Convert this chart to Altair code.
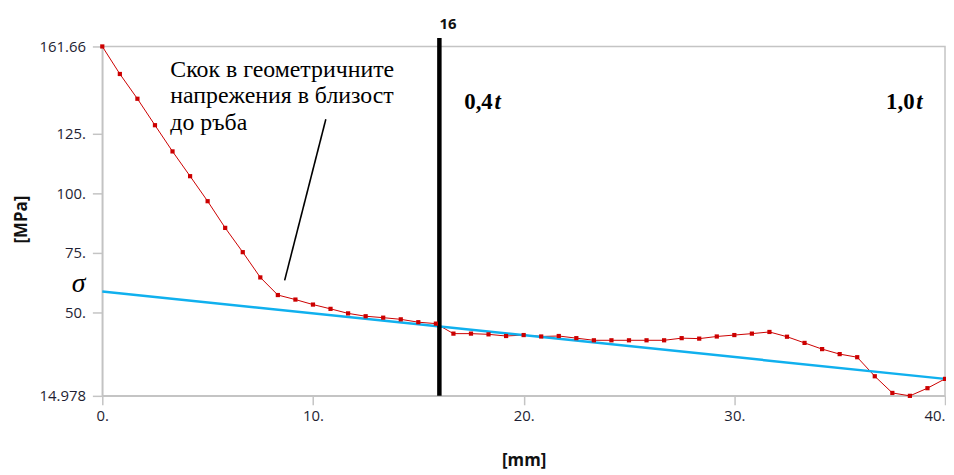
import altair as alt
import pandas as pd

# distance along the path [mm]
x_mm = [0, 0.833, 1.667, 2.5, 3.333, 4.167, 5, 5.833, 6.667, 7.5,
        8.333, 9.167, 10, 10.833, 11.667, 12.5, 13.333, 14.167, 15, 15.833,
        16.667, 17.5, 18.333, 19.167, 20, 20.833, 21.667, 22.5, 23.333, 24.167,
        25, 25.833, 26.667, 27.5, 28.333, 29.167, 30, 30.833, 31.667, 32.5,
        33.333, 34.167, 35, 35.833, 36.667, 37.5, 38.333, 39.167, 40]
# stress [MPa]
stress = [161.66, 150.1, 139.7, 128.6, 117.6, 107.2, 96.7, 85.5, 75.3, 64.7,
          57.3, 55.4, 53.3, 51.5, 49.6, 48.4, 47.8, 47.1, 45.9, 45.3,
          41.1, 41.1, 40.8, 40.1, 40.5, 39.9, 40.1, 39.2, 38.3, 38.3,
          38.3, 38.3, 38.3, 39.2, 39.0, 39.9, 40.5, 41.1, 41.8, 39.8,
          37.2, 34.6, 32.5, 31.2, 23.2, 16.2, 14.978, 18.2, 22.1]

# linearized stress
lin_x = [0, 40]
lin_y = [58.8, 22.1]

y_ticks = [14.978, 50, 75, 100, 125, 161.66]
x_ticks = [0, 10, 20, 30, 40]

marker_x = [16]
marker_label = ["16"]

note_lines = ["Скок в геометричните", "напрежения в близост", "до ръба"]
note_x = [3.23, 3.23, 3.23]
note_y = [148.9, 138.0, 126.7]

leader_x = [10.61]
leader_y = [131.1]
leader_x2 = [8.655]
leader_y2 = [63.45]

frac_text = ["0,4", "1,0"]
frac_x = [17.18, 37.2]
t_text = ["t", "t"]
t_x = [18.62, 38.64]
frac_y = [135.6, 135.6]

sigma_text = ["σ"]
sigma_x = [-1.13]
sigma_y = [58.75]

df = pd.DataFrame({"x": x_mm, "y": stress})
df_lin = pd.DataFrame({"x": lin_x, "y": lin_y})
df_mark = pd.DataFrame({"x": marker_x, "t": marker_label})
df_note = pd.DataFrame({"x": note_x, "y": note_y, "t": note_lines})
df_lead = pd.DataFrame({"x": leader_x, "y": leader_y, "x2": leader_x2, "y2": leader_y2})
df_frac = pd.DataFrame({"x": frac_x, "y": frac_y, "t": frac_text})
df_t = pd.DataFrame({"x": t_x, "y": frac_y, "t": t_text})
df_sig = pd.DataFrame({"x": sigma_x, "y": sigma_y, "t": sigma_text})

xs = alt.Scale(domain=[0, 40], nice=False, zero=False)
ys = alt.Scale(domain=[14.978, 161.66], nice=False, zero=False)

GRAY = "#c4c4c4"
SANS = "Open Sans"
SERIF = "Liberation Serif"
LABEL_C = "#1e1e32"

x_axis = alt.Axis(values=x_ticks, labelExpr="datum.value + '.'",
                  titleFont=SANS, titleFontWeight="bold", titleFontSize=17, titleColor="#111",
                  titleY=65, titleBaseline="middle",
                  labelFont=SANS, labelFontSize=15, labelColor=LABEL_C, labelFlush=False,
                  labelAlign={"condition": {"test": "datum.value == 40", "value": "right"},
                              "value": "center"},
                  labelPadding=4, tickSize=9, tickColor=GRAY, tickWidth=1.5,
                  domainColor=GRAY, domainWidth=1.5, grid=False, labelOverlap=False)
y_axis = alt.Axis(values=y_ticks,
                  labelExpr="datum.value % 1 == 0 ? datum.value + '.' : '' + datum.value",
                  titleFont=SANS, titleFontWeight="bold", titleFontSize=17,
                  titleColor="#111", titleX=-81, titleY=174, titleAngle=-90,
                  titleAlign="center", titleBaseline="middle",
                  labelFont=SANS, labelFontSize=15, labelColor=LABEL_C, labelPadding=7,
                  tickSize=10, tickColor=GRAY, tickWidth=1.5, domainColor=GRAY,
                  domainWidth=1.5, grid=False, labelOverlap=False, labelFlush=False)

X = alt.X("x:Q", scale=xs, axis=x_axis, title="[mm]")
Y = alt.Y("y:Q", scale=ys, axis=y_axis, title="[MPa]")

red_line = alt.Chart(df).mark_line(color="#cc0000", strokeWidth=1).encode(x=X, y=Y)
red_pts = alt.Chart(df).mark_square(color="#cc0000", size=18, opacity=1).encode(x=X, y=Y)
blue = alt.Chart(df_lin).mark_line(color="#10b0ee", strokeWidth=2.5).encode(x=X, y=Y)
vline = alt.Chart(df_mark).mark_rule(color="black", strokeWidth=4.5).encode(
    x=X, y=alt.value(-8.5), y2=alt.value(352),
)
vlabel = alt.Chart(df_mark).mark_text(align="left", baseline="middle", font=SANS,
                                      fontWeight="bold", fontSize=15, color="#111").encode(
    x=X, y=alt.value(-23), text="t:N",
)
note = alt.Chart(df_note).mark_text(align="left", baseline="alphabetic", font=SERIF,
                                    fontSize=24, color="black").encode(x=X, y=Y, text="t:N")
leader = alt.Chart(df_lead).mark_rule(color="black", strokeWidth=1.6).encode(
    x=X, y=Y, x2="x2:Q", y2="y2:Q",
)
frac = alt.Chart(df_frac).mark_text(align="left", baseline="alphabetic", font=SERIF,
                                    fontWeight="bold", fontSize=23, color="black").encode(
    x=X, y=Y, text="t:N",
)
tlab = alt.Chart(df_t).mark_text(align="left", baseline="alphabetic", font=SERIF,
                                 fontWeight="bold", fontStyle="italic", fontSize=23,
                                 color="black").encode(x=X, y=Y, text="t:N")
sigma = alt.Chart(df_sig).mark_text(align="center", baseline="alphabetic", font=SERIF,
                                    fontStyle="italic", fontSize=28, color="black").encode(
    x=X, y=Y, text="t:N",
)

chart = alt.layer(red_line, blue, vline, red_pts, vlabel, note, leader, frac, tlab, sigma).properties(
    width=849,
    height=352,
    autosize=alt.AutoSizeParams(type="none"),
    padding={"left": 95, "top": 37, "right": 1, "bottom": 78},
    background="white",
).configure_view(stroke=GRAY, strokeWidth=1.5)

chart.save("out.html", embed_options={"renderer": "svg", "actions": False})
